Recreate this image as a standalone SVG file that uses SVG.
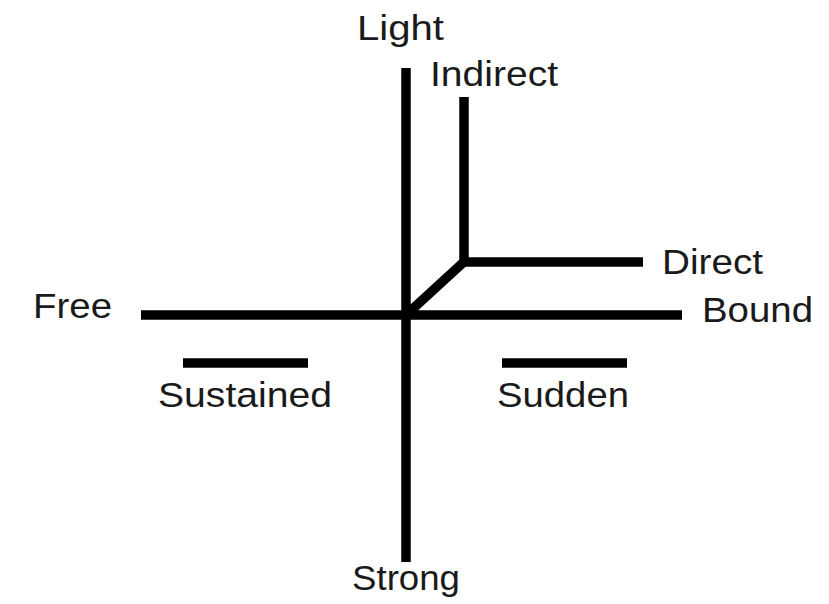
<svg xmlns="http://www.w3.org/2000/svg" width="829" height="604" viewBox="0 0 829 604">
<style>
.ln{stroke:#000;stroke-width:9.5;fill:none;stroke-linecap:butt;stroke-linejoin:miter}
.lb{font-family:"Liberation Sans",Arial,sans-serif;font-size:35px;fill:#1a1a1a}
</style>
<rect width="829" height="604" fill="#fff"/>
<g id="connectors">
<line class="ln" x1="406" y1="68" x2="406" y2="562"/>
<line class="ln" x1="141" y1="315" x2="682" y2="315"/>
<polyline class="ln" points="464,97 464,262 643,262"/>
<line class="ln" x1="406" y1="315" x2="466" y2="260"/>
<line class="ln" x1="183" y1="363" x2="308" y2="363"/>
<line class="ln" x1="502" y1="363" x2="627" y2="363"/>
</g>
<g id="light"><text class="lb" x="357" y="40" textLength="87" lengthAdjust="spacingAndGlyphs">Light</text></g>
<g id="indirect"><text class="lb" x="430" y="86" textLength="128" lengthAdjust="spacingAndGlyphs">Indirect</text></g>
<g id="direct"><text class="lb" x="662" y="274" textLength="101" lengthAdjust="spacingAndGlyphs">Direct</text></g>
<g id="bound"><text class="lb" x="702" y="322" textLength="111" lengthAdjust="spacingAndGlyphs">Bound</text></g>
<g id="free"><text class="lb" x="33" y="318" textLength="79" lengthAdjust="spacingAndGlyphs">Free</text></g>
<g id="sustained"><text class="lb" x="158" y="407" textLength="174" lengthAdjust="spacingAndGlyphs">Sustained</text></g>
<g id="sudden"><text class="lb" x="497" y="407" textLength="132" lengthAdjust="spacingAndGlyphs">Sudden</text></g>
<g id="strong"><text class="lb" x="352" y="590" textLength="108" lengthAdjust="spacingAndGlyphs">Strong</text></g>
</svg>
